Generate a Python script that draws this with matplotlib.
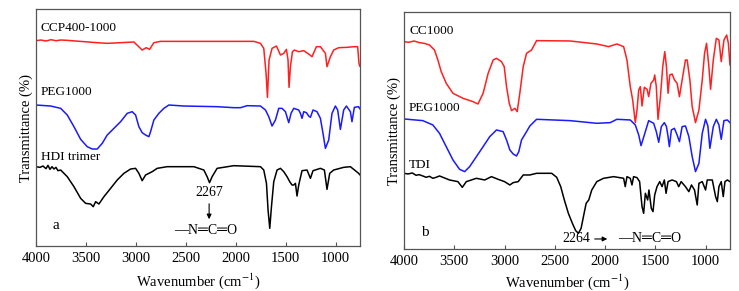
import matplotlib
matplotlib.use("Agg")
import matplotlib.pyplot as plt

plt.rcParams['font.family'] = ['Liberation Serif', 'DejaVu Serif', 'DejaVu Sans']
plt.rcParams['mathtext.fontset'] = 'stix'

# ---- panel a (transmittance, arbitrary offset units) ----
a_ccp_w = [4000, 3950, 3900, 3850, 3800, 3750, 3687, 3387, 3287, 3020, 2937, 2897, 2863, 2820, 2753, 1820,
           1753, 1720, 1697, 1683, 1667, 1637, 1593, 1553, 1520, 1493, 1477, 1467, 1453, 1433, 1413, 1370,
           1320, 1270, 1237, 1193, 1153, 1103, 1087, 1053, 1020, 970, 887, 820, 780, 767, 760]
a_ccp_t = [616, 618, 615, 619, 616, 618, 617, 610, 608, 612, 588, 595, 590, 610, 614, 614,
           608, 593, 518, 446, 558, 593, 600, 573, 578, 590, 558, 476, 538, 583, 588, 583,
           586, 576, 568, 598, 598, 578, 538, 568, 588, 595, 596, 598, 598, 548, 540]

a_peg_w = [4000, 3853, 3753, 3687, 3620, 3553, 3487, 3437, 3387, 3337, 3287, 3220, 3153, 3087, 3037, 3003,
           2970, 2937, 2903, 2870, 2853, 2820, 2770, 2720, 2670, 2520, 2187, 2020, 1953, 1887, 1753, 1703,
           1670, 1637, 1603, 1570, 1537, 1503, 1470, 1447, 1420, 1370, 1353, 1337, 1320, 1293, 1270, 1253,
           1227, 1187, 1153, 1127, 1103, 1070, 1037, 1003, 980, 953, 920, 893, 853, 837, 813, 770, 760]
a_peg_t = [423, 420, 413, 393, 358, 320, 298, 291, 291, 308, 333, 353, 373, 398, 403, 393,
           358, 340, 333, 328, 343, 378, 398, 413, 423, 420, 418, 415, 415, 421, 420, 408,
           388, 360, 378, 413, 413, 403, 370, 398, 413, 408, 398, 383, 403, 400, 390, 386,
           408, 403, 383, 338, 293, 318, 398, 420, 408, 350, 408, 420, 403, 373, 416, 418, 412]

a_hdi_w = [4000, 3960, 3930, 3900, 3880, 3860, 3840, 3820, 3800, 3780, 3753, 3687, 3620, 3553, 3503, 3453,
           3427, 3403, 3370, 3320, 3253, 3187, 3120, 3053, 3003, 2970, 2937, 2903, 2870, 2837, 2787, 2687,
           2420, 2320, 2287, 2263, 2237, 2187, 2020, 1753, 1720, 1693, 1677, 1660, 1643, 1620, 1587, 1553,
           1520, 1487, 1460, 1437, 1420, 1403, 1387, 1370, 1337, 1287, 1253, 1227, 1153, 1113, 1087, 1060,
           1020, 920, 853, 770, 760]
a_hdi_t = [238, 236, 240, 232, 242, 230, 238, 231, 236, 226, 228, 208, 178, 143, 128, 126,
           118, 133, 126, 148, 173, 198, 218, 231, 233, 218, 196, 213, 218, 223, 233, 238,
           238, 228, 208, 190, 208, 233, 241, 238, 228, 188, 108, 53, 118, 193, 228, 233,
           223, 208, 193, 183, 183, 188, 150, 183, 226, 228, 203, 226, 233, 228, 170, 218,
           228, 236, 238, 218, 214]

# ---- panel b ----
b_cc_w = [4000, 3950, 3900, 3847, 3800, 3747, 3697, 3663, 3630, 3580, 3513, 3413, 3313, 3264, 3213, 3163,
          3113, 3080, 3030, 3003, 2980, 2953, 2930, 2897, 2874, 2848, 2814, 2781, 2731, 2681, 2348, 2082,
          1965, 1882, 1815, 1782, 1749, 1725, 1699, 1682, 1665, 1649, 1632, 1609, 1582, 1566, 1543, 1516,
          1506, 1490, 1473, 1449, 1426, 1406, 1389, 1373, 1356, 1333, 1309, 1283, 1260, 1233, 1200, 1183,
          1156, 1133, 1100, 1066, 1033, 1010, 990, 967, 950, 923, 893, 867, 844, 817, 790, 773, 757]
b_cc_t = [623, 621, 625, 620, 618, 613, 598, 568, 533, 498, 468, 453, 443, 436, 468, 528,
          568, 573, 563, 548, 488, 438, 416, 423, 413, 468, 548, 588, 598, 626, 625, 616,
          608, 616, 608, 568, 488, 448, 380, 418, 478, 488, 430, 486, 480, 458, 498, 508,
          523, 488, 390, 458, 548, 593, 548, 468, 523, 526, 508, 498, 458, 508, 568, 568,
          508, 428, 380, 418, 508, 588, 618, 548, 480, 568, 633, 628, 563, 628, 643, 618, 553]

b_peg_w = [4000, 3813, 3713, 3647, 3580, 3513, 3447, 3397, 3347, 3280, 3213, 3147, 3080, 3014, 2980, 2947,
           2914, 2881, 2858, 2831, 2781, 2748, 2681, 2348, 2082, 1949, 1882, 1749, 1699, 1665, 1642, 1609,
           1566, 1516, 1490, 1466, 1440, 1410, 1389, 1373, 1360, 1340, 1310, 1283, 1260, 1233, 1200, 1166,
           1133, 1100, 1066, 1033, 1000, 977, 957, 923, 893, 867, 844, 817, 783, 757]
b_peg_t = [391, 386, 373, 348, 308, 268, 240, 233, 248, 278, 308, 338, 358, 353, 328, 298,
           286, 280, 293, 328, 353, 370, 390, 386, 378, 380, 390, 388, 373, 343, 311, 343,
           386, 378, 353, 321, 368, 380, 368, 338, 308, 358, 363, 343, 323, 368, 370, 338,
           278, 233, 258, 348, 390, 370, 303, 368, 390, 373, 330, 386, 388, 380]

b_tdi_w = [4000, 3960, 3917, 3880, 3850, 3813, 3780, 3747, 3713, 3680, 3647, 3547, 3464, 3420, 3380, 3280,
           3197, 3130, 3064, 3000, 2947, 2914, 2864, 2814, 2748, 2681, 2531, 2481, 2441, 2405, 2365, 2325,
           2292, 2265, 2238, 2215, 2188, 2162, 2132, 2082, 2015, 1915, 1815, 1799, 1782, 1749, 1732, 1716,
           1682, 1656, 1632, 1616, 1599, 1576, 1563, 1540, 1523, 1506, 1483, 1456, 1433, 1410, 1393, 1373,
           1333, 1290, 1267, 1243, 1200, 1166, 1140, 1110, 1083, 1066, 1033, 1000, 983, 933, 900, 883,
           867, 844, 824, 807, 783, 757]
b_tdi_t = [228, 226, 229, 222, 224, 220, 216, 219, 213, 216, 220, 208, 203, 186, 203, 213,
           208, 218, 210, 203, 193, 200, 203, 223, 223, 228, 228, 216, 188, 148, 108, 78,
           56, 48, 63, 98, 138, 148, 178, 203, 213, 218, 213, 188, 218, 213, 193, 218,
           215, 203, 128, 108, 168, 148, 178, 123, 113, 163, 188, 203, 188, 208, 168, 203,
           208, 203, 188, 203, 188, 173, 193, 178, 133, 198, 203, 178, 208, 208, 158, 143,
           188, 203, 158, 203, 208, 203]

a_labels = ['CCP400-1000', 'PEG1000', 'HDI trimer']
b_labels = ['CC1000', 'PEG1000', 'TDI']
colors = ['#ff2020', '#1a1aff', 'black']

fig = plt.figure(figsize=(7.39, 2.91), dpi=100)
axa = fig.add_axes([0.0487, 0.1546, 0.4384, 0.8144])
axb = fig.add_axes([0.5467, 0.1433, 0.4411, 0.8144])

series_a = [(a_ccp_w, a_ccp_t), (a_peg_w, a_peg_t), (a_hdi_w, a_hdi_t)]
series_b = [(b_cc_w, b_cc_t), (b_peg_w, b_peg_t), (b_tdi_w, b_tdi_t)]

for ax, series, lp in [(axa, series_a, 5), (axb, series_b, 3)]:
    for (w, t), c in zip(series, colors):
        ax.plot(w, t, color=c, lw=1.1)
    ax.set_xlim(4000, 757)
    ax.set_ylim(0, 711)
    ax.set_xticks([4000, 3500, 3000, 2500, 2000, 1500, 1000])
    ax.set_yticks([])
    ax.tick_params(axis='x', direction='in', length=3, labelsize=10.5, pad=4, color='#555555')
    for s in ax.spines.values():
        s.set_color('#555555')
        s.set_linewidth(0.9)
    ax.set_xlabel('Wavenumber (cm$^{-1}$)', fontsize=10.5, labelpad=lp)
    ax.set_ylabel('Transmittance (%)', fontsize=10.5, labelpad=2)

# curve labels
for y, lab in zip([636, 444, 250], a_labels):
    axa.text(3950, y, lab, fontsize=9.5, va='bottom', ha='left')
for y, lab in zip([636, 405, 236], b_labels):
    axb.text(3950, y, lab, fontsize=9.5, va='bottom', ha='left')

axa.text(3830, 50, 'a', fontsize=11)
axb.text(3830, 40, 'b', fontsize=11)

axa.annotate('', xy=(2267, 72), xytext=(2267, 135),
             arrowprops=dict(arrowstyle='-|>', color='black', lw=0.8, mutation_scale=7))
axa.text(2267, 140, '2267', fontsize=10, ha='center', va='bottom')
axa.text(2300, 48, '\u2014N\u2550C\u2550O', fontsize=10, ha='center', va='center')

axb.text(2290, 31, '2264', fontsize=10, ha='center', va='center')
axb.annotate('', xy=(1950, 31), xytext=(2130, 31),
             arrowprops=dict(arrowstyle='-|>', color='black', lw=0.8, mutation_scale=7))
axb.text(1560, 31, '\u2014N\u2550C\u2550O', fontsize=10, ha='center', va='center')

fig.savefig('out.png', dpi=100)
